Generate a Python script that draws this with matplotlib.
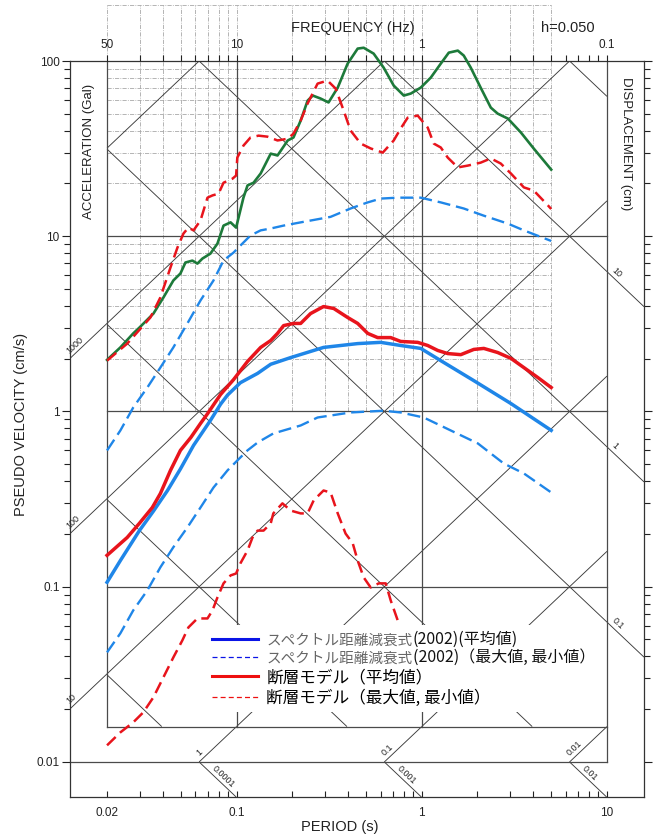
import numpy as np
import matplotlib
matplotlib.use('Agg')
import matplotlib.pyplot as plt
from matplotlib.lines import Line2D
from matplotlib.patches import Rectangle
from matplotlib.ticker import FixedLocator, FixedFormatter, NullFormatter

plt.rcParams['font.family'] = ['Liberation Sans', 'Noto Sans CJK JP', 'DejaVu Sans']

# ---------------- data (period s, pseudo velocity cm/s) ----------------
green_T = [0.02, 0.0236, 0.0277, 0.0299, 0.0356, 0.0403, 0.0456, 0.0498, 0.053, 0.0578,
           0.0615, 0.0655, 0.0723, 0.0789, 0.0851, 0.0929, 0.0995, 0.109, 0.1147, 0.1236,
           0.135, 0.153, 0.1665, 0.189, 0.203, 0.222, 0.242, 0.258, 0.284, 0.314,
           0.352, 0.398, 0.451, 0.486, 0.550, 0.623, 0.706, 0.800, 0.873, 0.988,
           1.119, 1.267, 1.40, 1.566, 1.686, 1.84, 2.08, 2.36, 2.57, 2.92,
           3.43, 4.03, 5.0]
green_V = [1.97, 2.32, 2.79, 3.01, 3.62, 4.47, 5.59, 6.13, 7.08, 7.26,
           6.98, 7.46, 7.96, 9.08, 11.5, 12.0, 11.2, 16.6, 19.5, 20.2,
           22.8, 29.6, 28.9, 35.2, 36.6, 45.7, 59.4, 63.5, 61.1, 58.0,
           70.5, 96.6, 117.7, 119.0, 110.2, 91.6, 72.4, 63.5, 65.2, 70.5,
           80.4, 96.6, 111.6, 114.6, 107.4, 91.6, 70.5, 54.2, 50.1, 46.9,
           39.1, 31.6, 24.0]

fault_max_T = [0.02, 0.0257, 0.0343, 0.0388, 0.0440, 0.048, 0.0517, 0.0550, 0.0586, 0.0639,
               0.0697, 0.0742, 0.080, 0.0851, 0.0951, 0.0995, 0.101, 0.109, 0.119, 0.1315,
               0.147, 0.1665, 0.189, 0.203, 0.222, 0.242, 0.274, 0.310, 0.343, 0.379,
               0.413, 0.468, 0.530, 0.616, 0.706, 0.770, 0.840, 0.951, 1.077, 1.161,
               1.267, 1.382, 1.566, 1.773, 2.08, 2.36, 2.67, 3.03, 3.56, 4.03, 4.80, 5.0]
fault_max_V = [1.95, 2.44, 3.44, 4.47, 6.63, 8.62, 10.36, 11.2, 10.8, 12.3,
               16.6, 17.1, 17.5, 20.2, 21.3, 22.2, 28.1, 32.9, 36.6, 37.5,
               37.0, 35.2, 36.0, 38.5, 45.7, 57.2, 74.3, 77.3, 69.6, 52.1,
               40.1, 33.8, 31.7, 30.0, 35.2, 41.2, 47.5, 48.8, 41.7, 33.8,
               32.1, 28.1, 24.7, 25.3, 26.3, 27.8, 26.0, 22.8, 19.0, 18.2, 15.0, 14.3]

fault_mean_T = [0.02, 0.0257, 0.0299, 0.0351, 0.0388, 0.0440, 0.0498, 0.0567, 0.0639, 0.0697,
                0.082, 0.0964, 0.1147, 0.135, 0.153, 0.1665, 0.1795, 0.203, 0.222, 0.251,
                0.295, 0.335, 0.398, 0.451, 0.511, 0.578, 0.680, 0.770, 0.951, 1.077,
                1.22, 1.382, 1.625, 1.91, 2.164, 2.57, 3.03, 3.56, 4.24, 5.0]
fault_mean_V = [0.151, 0.191, 0.230, 0.283, 0.340, 0.461, 0.600, 0.711, 0.854, 0.97,
                1.25, 1.52, 1.93, 2.32, 2.54, 2.79, 3.09, 3.18, 3.18, 3.62,
                3.97, 3.87, 3.44, 3.18, 2.79, 2.64, 2.64, 2.51, 2.48, 2.38,
                2.23, 2.14, 2.11, 2.26, 2.29, 2.17, 2.01, 1.78, 1.56, 1.37]

fault_min_T = [0.02, 0.0236, 0.0277, 0.0314, 0.0356, 0.0403, 0.0456, 0.051, 0.0550, 0.0615,
               0.0697, 0.0742, 0.0789, 0.0851, 0.0929, 0.0995, 0.105, 0.1147, 0.122, 0.130,
               0.140, 0.153, 0.158, 0.177, 0.196, 0.222, 0.242, 0.261, 0.295, 0.322,
               0.352, 0.388, 0.424, 0.451, 0.486, 0.530, 0.586, 0.639, 0.680, 0.742, 0.80]
fault_min_V = [0.01244, 0.01475, 0.01683, 0.0192, 0.0234, 0.0304, 0.0395, 0.0494, 0.0586, 0.0659,
               0.0659, 0.0733, 0.0869, 0.1045, 0.116, 0.119, 0.136, 0.161, 0.191, 0.209,
               0.209, 0.230, 0.262, 0.299, 0.272, 0.262, 0.262, 0.311, 0.354, 0.345,
               0.262, 0.201, 0.177, 0.141, 0.113, 0.099, 0.1045, 0.1045, 0.0835, 0.0642, 0.052]

attn_mean_T = [0.02, 0.0236, 0.0299, 0.0356, 0.0424, 0.0498, 0.0586, 0.0723, 0.082, 0.0894,
               0.105, 0.130, 0.153, 0.196, 0.295, 0.451, 0.600, 0.770, 0.988, 1.267,
               1.91, 3.03, 5.0]
attn_mean_V = [0.106, 0.141, 0.209, 0.27, 0.354, 0.47, 0.64, 0.889, 1.10, 1.24,
               1.46, 1.65, 1.86, 2.03, 2.32, 2.44, 2.48, 2.38, 2.29, 1.95,
               1.50, 1.11, 0.78]

attn_max_T = [0.02, 0.0236, 0.0277, 0.0330, 0.0388, 0.0456, 0.0543, 0.0639, 0.0751, 0.0851,
              0.0964, 0.105, 0.119, 0.135, 0.153, 0.1795, 0.222, 0.322, 0.413, 0.511,
              0.600, 0.742, 0.988, 1.267, 1.686, 2.164, 2.92, 3.56, 5.0]
attn_max_V = [0.599, 0.779, 1.054, 1.37, 1.78, 2.32, 3.18, 4.30, 5.59, 7.27,
              8.07, 8.85, 10.1, 10.8, 11.07, 11.5, 12.0, 12.9, 14.4, 15.6,
              16.4, 16.6, 16.6, 15.6, 14.4, 13.1, 11.8, 10.8, 9.4]

attn_min_T = [0.02, 0.0236, 0.0277, 0.0330, 0.0388, 0.0456, 0.0543, 0.0639, 0.0751, 0.0894,
              0.101, 0.1147, 0.130, 0.158, 0.222, 0.274, 0.413, 0.623, 0.770, 1.025,
              1.435, 2.01, 2.77, 3.56, 5.0]
attn_min_V = [0.0422, 0.0542, 0.0733, 0.0953, 0.129, 0.168, 0.218, 0.283, 0.368, 0.461,
              0.525, 0.600, 0.665, 0.749, 0.832, 0.924, 0.987, 1.01, 0.987, 0.924,
              0.779, 0.657, 0.505, 0.443, 0.345]

leg_prefix = ['スペクトル距離減衰式', 'スペクトル距離減衰式', '断層モデル（平均値）', '断層モデル（最大値, 最小値）']
leg_suffix = ['(2002)(平均値)', '(2002)（最大値, 最小値）', '', '']

# tripartite paper structure
accel_levels = [0.01, 0.1, 1, 10, 100, 1000, 10000]      # Gal
disp_levels = [1e-4, 1e-3, 1e-2, 0.1, 1, 10, 100]         # cm
period_major = [0.02, 0.1, 1, 10]
period_labels = ['0.02', '0.1', '1', '10']
freq_labels = ['50', '10', '1', '0.1']
vel_major = [0.01, 0.1, 1, 10, 100]
vel_labels = ['0.01', '0.1', '1', '10', '100']

# ---------------- figure ----------------
W, H = 656, 836
fig = plt.figure(figsize=(W / 100, H / 100), dpi=100)
L, R, B, TP = 70, 644, 797, 61
ax = fig.add_axes([L / W, (H - B) / H, (R - L) / W, (B - TP) / H])
ax.set_xscale('log')
ax.set_yscale('log')
XL = (0.02 / 10 ** 0.2, 10 * 10 ** 0.2)
YL = (0.01 / 10 ** 0.2, 100)
ax.set_xlim(XL)
ax.set_ylim(YL)

TWO_PI = 2 * np.pi
T0, T1 = 0.02, 10.0
V0, V1 = 0.1 / TWO_PI, 100.0   # inner box bottom / top

def acc_v(A, T):
    return A * np.asarray(T) / TWO_PI

def disp_v(D, T):
    return TWO_PI * D / np.asarray(T)

DIAG = dict(color='#3a3a3a', lw=0.65, zorder=1.5, solid_capstyle='butt')
GRID = dict(color='#4a4a4a', lw=0.9, zorder=1.6)

# diagonals inside the box
for A in accel_levels:
    ta, tb = max(T0, TWO_PI * V0 / A), min(T1, TWO_PI * V1 / A)
    if tb > ta * 1.0001:
        ax.plot([ta, tb], acc_v(A, [ta, tb]), **DIAG)
for D in disp_levels:
    ta, tb = max(T0, TWO_PI * D / V1), min(T1, TWO_PI * D / V0)
    if tb > ta * 1.0001:
        ax.plot([ta, tb], disp_v(D, [ta, tb]), **DIAG)
# left margin acceleration lines
for A in [10, 100, 1000]:
    ax.plot([XL[0], T0], acc_v(A, [XL[0], T0]), **DIAG)
# right margin displacement lines
for D in [0.1, 1, 10]:
    ax.plot([T1, XL[1]], disp_v(D, [T1, XL[1]]), **DIAG)
# bottom label strip
for A in [1, 0.1, 0.01]:
    ta, tb = TWO_PI * 0.01 / A, 0.1 / A
    ax.plot([ta, tb], acc_v(A, [ta, tb]), **DIAG)
for D in [1e-4, 1e-3, 1e-2]:
    ta, tb = TWO_PI * D / 0.01, TWO_PI * D / YL[0]
    ax.plot([ta, tb], disp_v(D, [ta, tb]), **DIAG)

# decade grid
for v in [0.1, 1, 10]:
    ax.plot([T0, T1], [v, v], **GRID)
ax.plot([T0, T1], [V0, V0], **GRID)
ax.plot([XL[0], T1], [0.01, 0.01], **GRID)
for t in [0.02, 0.1, 1]:
    ax.plot([t, t], [V0, V1], **GRID)
ax.plot([T1, T1], [0.01, V1], **GRID)

# faint overlay grid (upper part)
ov_T = [k * 0.01 for k in range(2, 10)] + [k * 0.1 for k in range(1, 10)] + [1, 2, 3, 4, 5]
ov_V = [k for k in range(2, 10)] + [k * 10 for k in range(2, 10)] + [210]
OV = dict(color='#a8a8a8', lw=0.6, ls=(0, (5, 1.5, 1, 1.5)), zorder=1.2, clip_on=False)
for t in ov_T:
    ax.plot([t, t], [1, 210], **OV)
for v in ov_V:
    ax.plot([0.02, 5], [v, v], **OV)

# ---------------- curves ----------------
GREEN = '#1d7a3a'
RED = '#e8141c'
BLUE = '#1f86e8'
ax.plot(green_T, green_V, color=GREEN, lw=1.9, zorder=3, clip_on=False)
ax.plot(fault_max_T, fault_max_V, color=RED, lw=1.8, ls=(0, (4.8, 2.4)), zorder=3, clip_on=False)
ax.plot(fault_min_T, fault_min_V, color=RED, lw=1.8, ls=(0, (4.8, 2.4)), zorder=3)
ax.plot(fault_mean_T, fault_mean_V, color=RED, lw=2.5, zorder=3.2)
ax.plot(attn_mean_T, attn_mean_V, color=BLUE, lw=2.5, zorder=3.1)
ax.plot(attn_max_T, attn_max_V, color=BLUE, lw=1.7, ls=(0, (5.5, 2.5)), zorder=3)
ax.plot(attn_min_T, attn_min_V, color=BLUE, lw=1.7, ls=(0, (5.5, 2.5)), zorder=3)

# ---------------- axes / ticks ----------------
for s in ax.spines.values():
    s.set_linewidth(0.9)
    s.set_color('#333333')

ax.yaxis.set_major_locator(FixedLocator(vel_major))
ax.yaxis.set_major_formatter(FixedFormatter(vel_labels))
ax.yaxis.set_minor_locator(FixedLocator([k * 10.0 ** e for e in range(-2, 2) for k in range(2, 10)]))
ax.yaxis.set_minor_formatter(NullFormatter())

per_minor = [k * 0.01 for k in range(3, 10)] + [k * 0.1 for k in range(2, 10)] + [k for k in range(2, 10)]

ax2 = ax.twiny()
ax2.set_xscale('log')
ax2.set_xlim(XL)
ax2.xaxis.set_major_locator(FixedLocator(period_major))
ax2.xaxis.set_major_formatter(FixedFormatter(freq_labels))
ax2.xaxis.set_minor_locator(FixedLocator(per_minor))
ax2.xaxis.set_minor_formatter(NullFormatter())
ax2.tick_params(axis='x', which='both', direction='out', length=4, width=0.8,
                labelsize=8.5, pad=3, colors='#222222')
for s in ax2.spines.values():
    s.set_visible(False)

ax.xaxis.set_major_locator(FixedLocator(period_major))
ax.xaxis.set_major_formatter(FixedFormatter(period_labels))
ax.xaxis.set_minor_locator(FixedLocator(per_minor))
ax.xaxis.set_minor_formatter(NullFormatter())
ax.tick_params(axis='x', which='both', direction='in', length=4, width=0.8,
               labelsize=8.5, pad=7, bottom=True, top=False, colors='#222222')
ax.tick_params(axis='y', which='both', direction='out', left=True, right=True,
               labelleft=True, labelright=False, width=0.8, labelsize=8.5, pad=2,
               colors='#222222')
ax.tick_params(axis='y', which='major', length=5.5)
ax.tick_params(axis='y', which='minor', length=4.5)

# ---------------- texts ----------------
def ftxt(x, y, s, **kw):
    fig.text(x / W, 1 - y / H, s, ha='center', va='center', color='#222222', **kw)

ftxt(353, 28, 'FREQUENCY (Hz)', fontsize=10.5)
ftxt(568, 28, 'h=0.050', fontsize=10.5)
ftxt(340, 827, 'PERIOD (s)', fontsize=10.5)
ftxt(21, 424, 'PSEUDO VELOCITY (cm/s)', fontsize=10.5, rotation=90)
ftxt(89, 151, 'ACCELERATION (Gal)', fontsize=9.5, rotation=90)
ftxt(626, 144, 'DISPLACEMENT (cm)', fontsize=9.5, rotation=-90)

px_x = (R - L) / np.log10(XL[1] / XL[0])
px_y = (B - TP) / np.log10(YL[1] / YL[0])
theta = np.degrees(np.arctan(px_y / px_x))
th = np.radians(theta)
off = 1.2

def lab(s, T, V, up):
    if up:
        rot, dx, dy = theta, -np.sin(th) * off, np.cos(th) * off
    else:
        rot, dx, dy = -theta, np.sin(th) * off, np.cos(th) * off
    ax.annotate(s, xy=(T, V), xytext=(dx, dy), textcoords='offset points',
                rotation=rot, rotation_mode='anchor', ha='left', va='bottom',
                fontsize=6.5, color='#222222', annotation_clip=False, zorder=2)

for A, s in [(1000, '1000'), (100, '100'), (10, '10')]:
    t = XL[0] * 10 ** (2 / px_x)
    lab(s, t, acc_v(A, t), True)
for A, s in [(1, '1'), (0.1, '0.1'), (0.01, '0.01')]:
    t = TWO_PI * 0.01 / A * 10 ** (3 / px_x)
    lab(s, t, acc_v(A, t), True)
for D, s in [(1e-4, '0.0001'), (1e-3, '0.001'), (1e-2, '0.01')]:
    t = TWO_PI * D / 0.01 * 10 ** (10 / px_x)
    lab(s, t, disp_v(D, t), False)
for D, s in [(10, '10'), (1, '1'), (0.1, '0.1')]:
    t = T1 * 10 ** (2 / px_x)
    lab(s, t, disp_v(D, t), False)

# ---------------- legend ----------------
ax.add_patch(Rectangle((207 / W, 1 - 712 / H), (605 - 207) / W, (712 - 625) / H,
                       transform=fig.transFigure, facecolor='white', edgecolor='none', zorder=4))
handles = [Line2D([], [], color='#0a14e6', lw=2.2),
           Line2D([], [], color='#0a14e6', lw=0.9, ls=(0, (4, 2.5))),
           Line2D([], [], color='#ee1010', lw=2.2),
           Line2D([], [], color='#ee1010', lw=0.9, ls=(0, (4, 2.5)))]
leg = ax.legend(handles, leg_prefix, loc='upper left', bbox_to_anchor=(212 / W, 1 - 633 / H),
                bbox_transform=fig.transFigure, frameon=False, borderpad=0, borderaxespad=0,
                handlelength=2.75, handletextpad=0.5, labelspacing=0.2,
                prop={'family': ['Noto Sans CJK JP'], 'size': 12})
leg.set_zorder(5)
texts = leg.get_texts()
for i in range(2):
    texts[i].set_color('#666666')
    texts[i].set_fontsize(10.5)
for i, suf in enumerate(leg_suffix):
    if suf:
        ax.annotate(suf, xy=(1, 0), xycoords=texts[i], xytext=(0.3, 0), textcoords='offset points',
                    ha='left', va='bottom', fontsize=11.5, family=['Noto Sans CJK JP'],
                    color='#111111', zorder=6, annotation_clip=False)

fig.savefig('out.png', dpi=100)
